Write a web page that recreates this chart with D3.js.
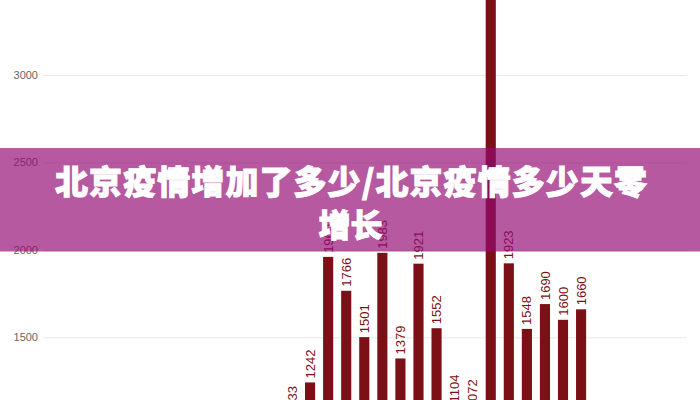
<!DOCTYPE html>
<html><head><meta charset="utf-8">
<script src="https://cdn.jsdelivr.net/npm/d3@7/dist/d3.min.js"></script>
<style>
html,body{margin:0;padding:0;background:#fff;}
svg{display:block;}
</style></head>
<body>
<svg id="chart" width="700" height="400"></svg>
<script>
const categories = ["D1","D2","D3","D4","D5","D6","D7","D8","D9","D10","D11","D12","D13","D14","D15","D16","D17"];
const values = [1033,1242,1960,1766,1501,1983,1379,1921,1552,1104,1072,3600,1923,1548,1690,1600,1660];
const yTicks = [1500,2000,2500,3000];
const titleLines = ["北京疫情增加了多少/北京疫情多少天零","增长"];

const svg = d3.select("#chart");
const W = 700, H = 400;

const y = d3.scaleLinear().domain([0,3000]).range([599.6,75]);
const x = d3.scaleBand().domain(categories).range([279,594.1]).paddingInner(0.44).paddingOuter(0.44);

// grid + axis
const axis = d3.axisLeft(y).tickValues(yTicks).tickSize(-644).tickPadding(5).tickFormat(d3.format("d"));
const ga = svg.append("g").attr("transform","translate(43,0)").call(axis);
ga.select(".domain").remove();
ga.selectAll(".tick line").attr("stroke","#e8e8e8").attr("stroke-width",1);
ga.selectAll(".tick text").attr("fill","#666").style("font-family","'Liberation Sans',Arial,sans-serif").style("font-size","11px");

const barColor = "#7b1017";
svg.append("g").selectAll("rect").data(values).join("rect")
  .attr("x",(d,i)=>x(categories[i]))
  .attr("width",x.bandwidth())
  .attr("y",d=>y(d))
  .attr("height",d=>y(0)-y(d))
  .attr("fill",barColor);

svg.append("g").selectAll("text").data(values).join("text")
  .attr("transform",(d,i)=>`translate(${x(categories[i])+x.bandwidth()/2},${y(d)-4}) rotate(-90)`)
  .attr("dy","0.35em")
  .attr("text-anchor","start")
  .attr("fill",barColor)
  .style("font-family","'Liberation Sans',Arial,sans-serif")
  .style("font-size","13px")
  .text(d=>d);

// overlay band
svg.append("rect").attr("x",0).attr("y",148).attr("width",W).attr("height",103.5)
  .attr("fill","rgb(148,10,115)").attr("fill-opacity",0.68);

const tf = "'Noto Sans CJK SC','Noto Sans',sans-serif";
svg.append("text").attr("x",351).attr("y",180).attr("text-anchor","middle")
  .attr("dominant-baseline","central")
  .attr("textLength",592).attr("lengthAdjust","spacing")
  .attr("fill","#fff").attr("stroke","#fff").attr("stroke-width",0.9)
  .style("font-family",tf).style("font-weight",900).style("font-size","33px")
  .text(titleLines[0]);
svg.append("text").attr("x",350.5).attr("y",222.5).attr("text-anchor","middle")
  .attr("dominant-baseline","central")
  .attr("fill","#fff").attr("stroke","#fff").attr("stroke-width",0.9)
  .style("font-family",tf).style("font-weight",900).style("font-size","32px")
  .text(titleLines[1]);
</script>
</body></html>
